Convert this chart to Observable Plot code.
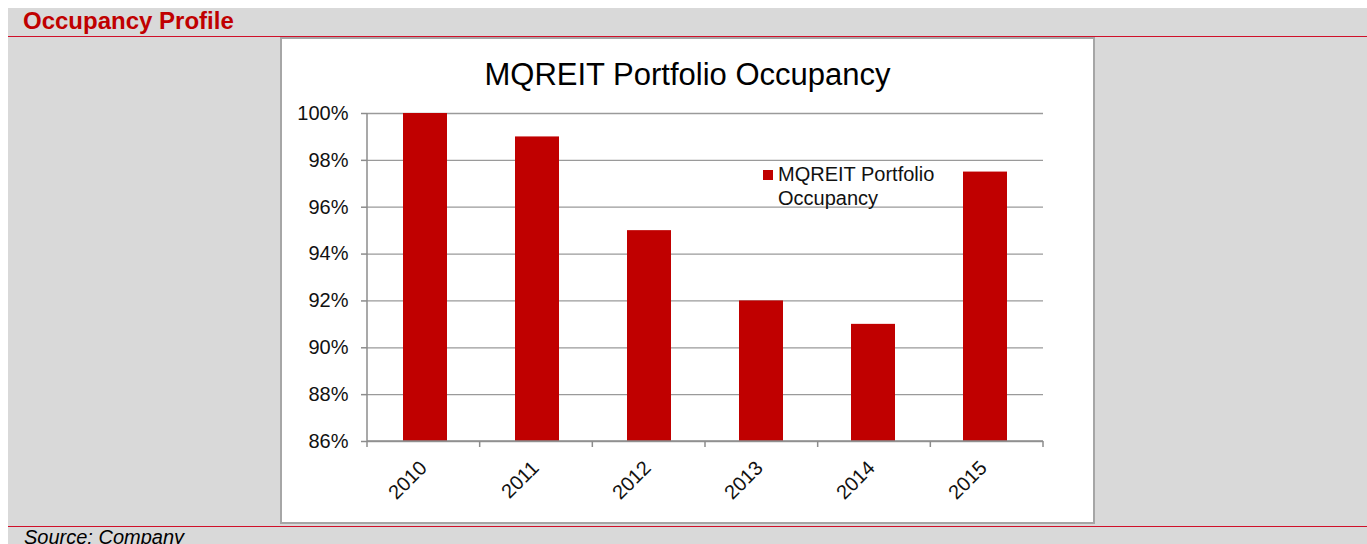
<!DOCTYPE html>
<html>
<head>
<meta charset="utf-8">
<script src="https://cdn.jsdelivr.net/npm/d3@7"></script>
<script src="https://cdn.jsdelivr.net/npm/@observablehq/plot@0.6"></script>
<style>
  html, body { margin: 0; padding: 0; background: #ffffff; overflow: hidden; }
  body { width: 1367px; height: 544px; position: relative; font-family: "Liberation Sans", Arial, sans-serif; }
  #bg { position: absolute; left: 8px; top: 8px; right: 0; bottom: 0; background: #d9d9d9; }
  #header { position: absolute; left: 23px; top: 7px; font-size: 24px; font-weight: bold; color: #c00000; line-height: 28px; }
  .redline { position: absolute; left: 8px; right: 0; height: 1px; background: #d0102a; z-index: 5; }
  #box { position: absolute; left: 280px; top: 37px; width: 811px; height: 483px; background: #fff; border: 2px solid #a6a6a6; }
  #title { position: absolute; left: 0; right: 0; top: 19px; text-align: center; font-size: 31px; color: #000; line-height: 34px; }
  #plotwrap { position: absolute; left: 0; top: 61px; }
  #legend { position: absolute; left: 481px; top: 123px; font-size: 20px; color: #111; line-height: 24px; }
  #legend .sw { position: absolute; left: 0; top: 8px; width: 10px; height: 10px; background: #c00000; }
  #legend .tx { position: absolute; left: 15px; top: 0; white-space: nowrap; }
  #source { position: absolute; left: 24px; top: 527px; font-size: 20px; line-height: 20px; font-style: italic; color: #000; }
</style>
</head>
<body>
<div id="bg"></div>
<div id="header">Occupancy Profile</div>
<div class="redline" style="top:36px"></div>
<div id="box">
  <div id="title">MQREIT Portfolio Occupancy</div>
  <div id="plotwrap"></div>
  <div id="legend"><div class="sw"></div><div class="tx">MQREIT Portfolio<br>Occupancy</div></div>
</div>
<div class="redline" style="top:526px"></div>
<div id="source">Source: Company</div>
<script>
const years = ["2010", "2011", "2012", "2013", "2014", "2015"];
const occupancy = [100, 99, 95, 92, 91, 97.5];
const yTicks = [86, 88, 90, 92, 94, 96, 98, 100];
const yMin = 86;
const yMax = 100;

const data = years.map((year, i) => ({year, value: occupancy[i]}));

const axisGray = "#8c8c8c";

// Custom mark: axis lines and category boundary ticks, derived from the scales/dimensions
function axisFrame(index, scales, values, dimensions) {
  const {width, marginLeft, marginRight} = dimensions;
  const g = d3.create("svg:g").attr("stroke", axisGray).attr("stroke-width", 1.5).attr("fill", "none");
  const y0 = scales.y(yMin);
  const yTop = scales.y(yMax);
  const x0 = marginLeft, x1 = width - marginRight;
  g.append("line").attr("x1", x0).attr("x2", x0).attr("y1", yTop).attr("y2", y0);
  g.append("line").attr("x1", x0).attr("x2", x1).attr("y1", y0).attr("y2", y0);
  const step = (x1 - x0) / years.length;
  for (let i = 0; i <= years.length; i++) {
    const xx = x0 + i * step;
    g.append("line").attr("x1", xx).attr("x2", xx).attr("y1", y0).attr("y2", y0 + 6);
  }
  return g.node();
}

const chart = Plot.plot({
  width: 811,
  height: 420,
  marginTop: 13,
  marginLeft: 85,
  marginRight: 50,
  marginBottom: 79,
  style: {fontFamily: "'Liberation Sans', Arial, sans-serif", fontSize: "20px", color: "#111", background: "transparent", overflow: "visible"},
  x: {domain: years, paddingInner: 0.61, paddingOuter: 0.305, label: null},
  y: {domain: [yMin, yMax], label: null},
  marks: [
    Plot.gridY(yTicks, {stroke: "#9a9a9a", strokeOpacity: 1, strokeWidth: 1.3}),
    Plot.barY(data, {x: "year", y1: yMin, y2: "value", fill: "#c00000"}),
    axisFrame,
    Plot.axisY(yTicks, {tickFormat: d => d + "%", tickSize: 6, tickPadding: 13, stroke: axisGray, strokeWidth: 1.5, label: null}),
    Plot.axisX({tickRotate: -45, tickSize: 0, tickPadding: 23, dx: -2, label: null})
  ]
});
document.getElementById("plotwrap").appendChild(chart);
</script>
</body>
</html>
